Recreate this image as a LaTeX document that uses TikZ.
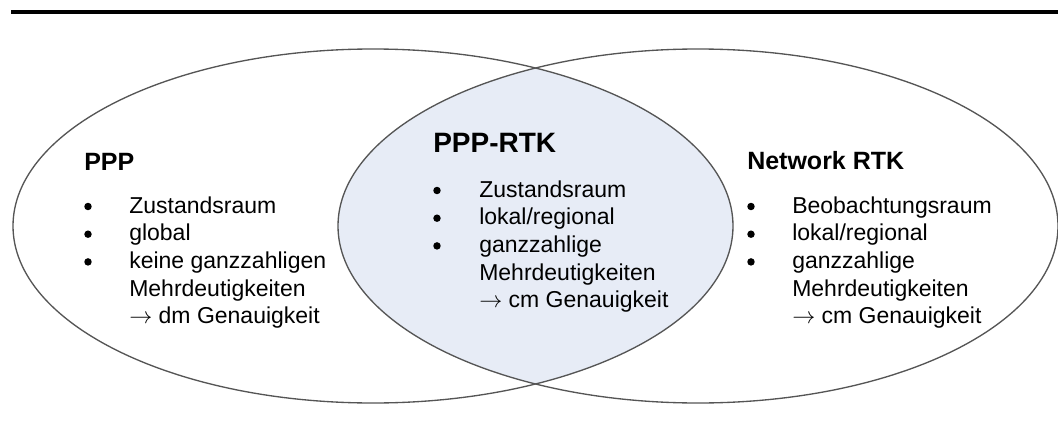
\documentclass[tikz,border=0pt]{standalone}
\usepackage{fontspec}
\setmainfont{Liberation Sans}
\usetikzlibrary{positioning}
\definecolor{vennline}{HTML}{555555}
\definecolor{vennfill}{HTML}{E7ECF6}

\begin{document}
\begin{tikzpicture}[x=.75pt,y=.75pt,inner sep=0pt,
    font=\fontsize{17.25}{20.8}\selectfont,
    settitle/.style={anchor=base west,font=\fontsize{18.75}{22}\selectfont\bfseries},
    setline/.style={anchor=base west},
    setdot/.style={anchor=center,circle,fill=black,minimum size=5.6pt}]
        \useasboundingbox (0,0) rectangle (1058,437);
        \draw[line width=2.4pt] (11,425) -- (1058,425);

        % overlap of both sets
        \begin{scope}
          \clip (373,211) ellipse (360 and 177);
          \fill[vennfill] (698,211) ellipse (360 and 177);
        \end{scope}
        \draw[vennline,line width=1pt] (373,211) ellipse (360 and 177);
        \draw[vennline,line width=1pt] (698,211) ellipse (360 and 177);

        % PPP
        \node[settitle] (ppp) at (84,267) {PPP};
        \foreach \txt [count=\i] in {Zustandsraum,global,keine ganzzahligen,Mehrdeutigkeiten,{$\rightarrow$ dm Genauigkeit}}
          \node[setline] (ppp-\i) at (129,224-27.7*\i+27.7) {\txt};
        \foreach \i in {1,2,3}
          \node[setdot] (ppp-dot-\i) at (88,230.5-27.7*\i+27.7) {};

        % PPP-RTK
        \node[settitle,font=\fontsize{21}{24}\selectfont\bfseries] (ppprtk) at (433,285) {PPP-RTK};
        \foreach \txt [count=\i] in {Zustandsraum,lokal/regional,ganzzahlige,Mehrdeutigkeiten,{$\rightarrow$ cm Genauigkeit}}
          \node[setline] (ppprtk-\i) at (479,240-27.7*\i+27.7) {\txt};
        \foreach \i in {1,2,3}
          \node[setdot] (ppprtk-dot-\i) at (437,246.5-27.7*\i+27.7) {};

        % Network RTK
        \node[settitle] (nrtk) at (747,268) {Network RTK};
        \foreach \txt [count=\i] in {Beobachtungsraum,lokal/regional,ganzzahlige,Mehrdeutigkeiten,{$\rightarrow$ cm Genauigkeit}}
          \node[setline] (nrtk-\i) at (792,224-27.7*\i+27.7) {\txt};
        \foreach \i in {1,2,3}
          \node[setdot] (nrtk-dot-\i) at (751,230.5-27.7*\i+27.7) {};
      \end{tikzpicture}
\end{document}
